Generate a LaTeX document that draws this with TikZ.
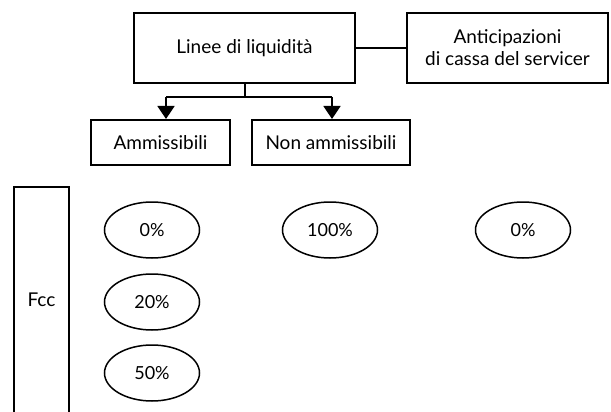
\documentclass[tikz,border=0pt]{standalone}
\usepackage{fontspec}
\setmainfont{Lato}
\usetikzlibrary{arrows.meta,shapes.geometric}
\tikzset{
  box/.style={draw, line width=2pt, inner sep=0pt, align=center, font=\fontsize{19}{22}\selectfont},
  pct/.style={draw, ellipse, line width=1.5pt, minimum width=95pt, minimum height=56pt, inner sep=0pt, font=\fontsize{18}{20}\selectfont},
  link/.style={line width=1.6pt},
  down/.style={link, -{Triangle[width=17pt,length=13pt]}}
}
\begin{document}
\begin{tikzpicture}[x=1pt,y=-1pt]
  \useasboundingbox (0,0) rectangle (611,412);

  % top row
  \node[box, minimum width=221pt, minimum height=70pt] (linee) at (244.5,48) {Linee di liquidità};
  \node[box, minimum width=201pt, minimum height=70pt] (antic) at (507.5,48) {Anticipazioni\\di cassa del servicer};
  \draw[link] (linee.east) -- (antic.west);

  % second row
  \node[box, minimum width=139pt, minimum height=45pt] (amm) at (160.5,142.5) {Ammissibili};
  \node[box, minimum width=158pt, minimum height=45pt] (nonamm) at (331,142.5) {Non ammissibili};

  \coordinate (split) at (245,97);
  \coordinate (lsplit) at (166,97);
  \coordinate (rsplit) at (332,97);
  \draw[link] (linee.south -| split) -- (split);
  \draw[link] (lsplit) -- (rsplit);
  \draw[down] (lsplit) -- (lsplit |- amm.north);
  \draw[down] (rsplit) -- (rsplit |- nonamm.north);

  % Fcc column, open at the bottom
  \coordinate (fbl) at (14,412);
  \coordinate (ftl) at (14,187);
  \coordinate (ftr) at (69,187);
  \coordinate (fbr) at (69,412);
  \draw[line width=2pt] (fbl) -- (ftl) -- (ftr) -- (fbr);
  \node[font=\fontsize{19}{22}\selectfont] (fcc) at (41.5,300) {Fcc};

  % weights
  \node[pct] (a0) at (152,230) {0\%};
  \node[pct] (a20) at (152,302) {20\%};
  \node[pct] (a50) at (152,373) {50\%};
  \node[pct] (n100) at (330,230) {100\%};
  \node[pct] (s0) at (523,230) {0\%};
\end{tikzpicture}
\end{document}
